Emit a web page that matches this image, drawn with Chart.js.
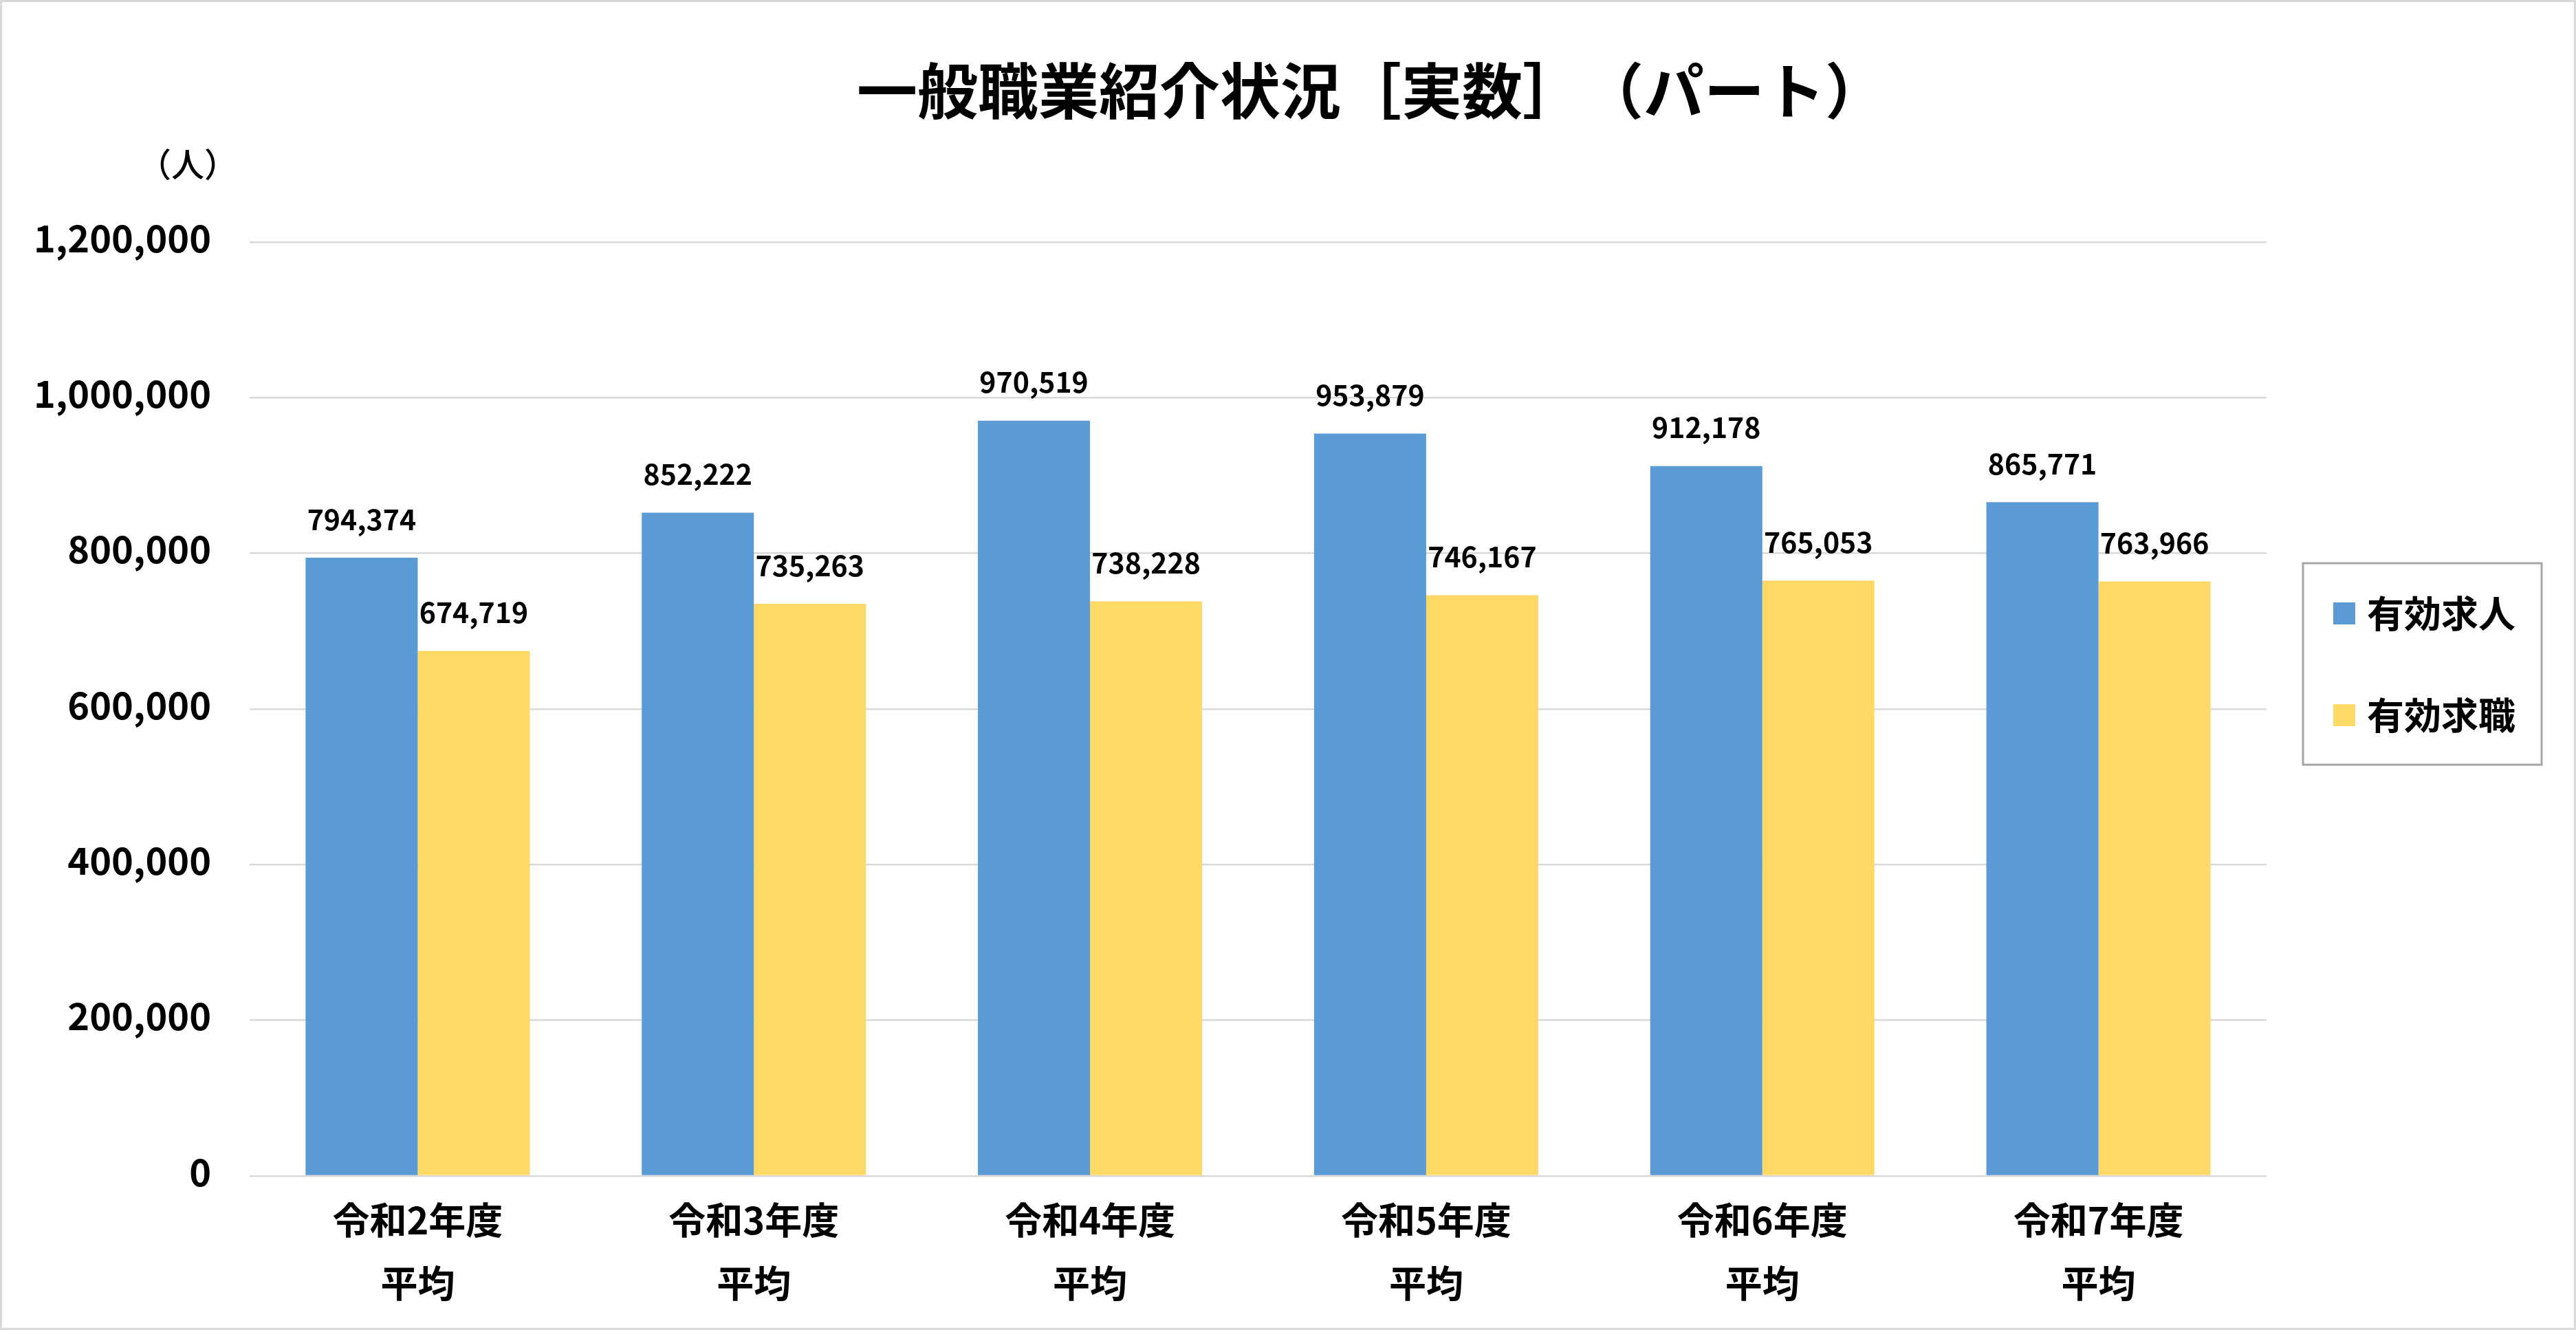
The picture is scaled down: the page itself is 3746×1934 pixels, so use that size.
<!DOCTYPE html>
<html>
<head>
<meta charset="utf-8">
<script src="https://cdn.jsdelivr.net/npm/chart.js@4.4.1/dist/chart.umd.min.js"></script>
<style>
html,body{margin:0;padding:0;background:#fff;overflow:hidden}
#wrap{width:3746px;height:1934px;position:relative}
canvas{display:block;text-spacing-trim:space-all;}
</style>
</head>
<body>
<div id="wrap"><canvas id="c" width="3746" height="1934"></canvas></div>
<script>
// ---- data ----
const titleText = '一般職業紹介状況［実数］（パート）';
const unitLabel = '（人）';
const categoryLine1 = ['令和2年度', '令和3年度', '令和4年度', '令和5年度', '令和6年度', '令和7年度'];
const categoryLine2 = ['平均', '平均', '平均', '平均', '平均', '平均'];
const seriesNames = ['有効求人', '有効求職'];
const jobOffers = [794374, 852222, 970519, 953879, 912178, 865771];
const jobSeekers = [674719, 735263, 738228, 746167, 765053, 763966];
const yTickValues = [0, 200000, 400000, 600000, 800000, 1000000, 1200000];

// ---- styles ----
const FONT = '"Noto Sans CJK JP", "Noto Sans", sans-serif';
const colors = ['#5B9BD5', '#FFD966'];
const fmt = v => Number(v).toLocaleString('en-US');

const frame = {
  id: 'frame',
  beforeDraw(chart) {
    const ctx = chart.ctx;
    ctx.save();
    ctx.fillStyle = '#ffffff';
    ctx.fillRect(0, 0, chart.width, chart.height);
    ctx.strokeStyle = '#d9d9d9';
    ctx.lineWidth = 3;
    ctx.strokeRect(1.5, 1.5, chart.width - 3, chart.height - 3);
    ctx.fillStyle = '#000';
    ctx.textAlign = 'center';
    ctx.textBaseline = 'middle';
    ctx.font = 'bold 88px ' + FONT;
    ctx.fillText(titleText, 1994, 132);
    ctx.font = '500 48px ' + FONT;
    ctx.fillText(unitLabel, 273, 239);
    ctx.restore();
  }
};

const valueLabels = {
  id: 'valueLabels',
  afterDatasetsDraw(chart) {
    const ctx = chart.ctx;
    ctx.save();
    ctx.fillStyle = '#000';
    ctx.font = 'bold 41px ' + FONT;
    ctx.textAlign = 'center';
    ctx.textBaseline = 'middle';
    chart.data.datasets.forEach((ds, i) => {
      const meta = chart.getDatasetMeta(i);
      meta.data.forEach((el, j) => {
        ctx.fillText(fmt(ds.data[j]), el.x, el.y - 56);
      });
    });
    ctx.restore();
  }
};

const boxLegend = {
  id: 'boxLegend',
  afterDraw(chart) {
    const ctx = chart.ctx;
    ctx.save();
    ctx.strokeStyle = '#a6a6a6';
    ctx.lineWidth = 3;
    ctx.strokeRect(3349, 819, 347, 293);
    ctx.font = 'bold 54px ' + FONT;
    ctx.textAlign = 'left';
    ctx.textBaseline = 'middle';
    chart.data.datasets.forEach((ds, i) => {
      const cy = 892 + i * 148;
      ctx.fillStyle = ds.backgroundColor;
      ctx.fillRect(3393, cy - 16, 32, 32);
      ctx.fillStyle = '#000';
      ctx.fillText(ds.label, 3442, cy);
    });
    ctx.restore();
  }
};

new Chart(document.getElementById('c'), {
  type: 'bar',
  data: {
    labels: categoryLine1.map((l, i) => [l, categoryLine2[i]]),
    datasets: [
      { label: seriesNames[0], data: jobOffers, backgroundColor: colors[0], barPercentage: 1.0, categoryPercentage: 0.667 },
      { label: seriesNames[1], data: jobSeekers, backgroundColor: colors[1], barPercentage: 1.0, categoryPercentage: 0.667 }
    ]
  },
  options: {
    responsive: false,
    devicePixelRatio: 1,
    animation: false,
    layout: { padding: { top: 352, right: 450, bottom: 0, left: 0 } },
    plugins: { legend: { display: false }, title: { display: false }, tooltip: { enabled: false } },
    scales: {
      x: {
        grid: { display: false, drawTicks: false },
        border: { display: false },
        ticks: { color: '#000', font: { family: FONT, size: 54, weight: 'bold', lineHeight: 1.7 }, padding: 19, maxRotation: 0, autoSkip: false },
        afterFit: s => { s.height = 224; }
      },
      y: {
        min: yTickValues[0],
        max: yTickValues[yTickValues.length - 1],
        afterBuildTicks: s => { s.ticks = yTickValues.map(v => ({ value: v })); },
        grid: { color: '#d9d9d9', lineWidth: 2.5, drawTicks: false },
        border: { display: false },
        ticks: { color: '#000', font: { family: FONT, size: 54, weight: 'bold' }, padding: 56, labelOffset: -6, callback: v => fmt(v) },
        afterFit: s => { s.width = 363; }
      }
    }
  },
  plugins: [frame, valueLabels, boxLegend]
});
</script>
</body>
</html>
